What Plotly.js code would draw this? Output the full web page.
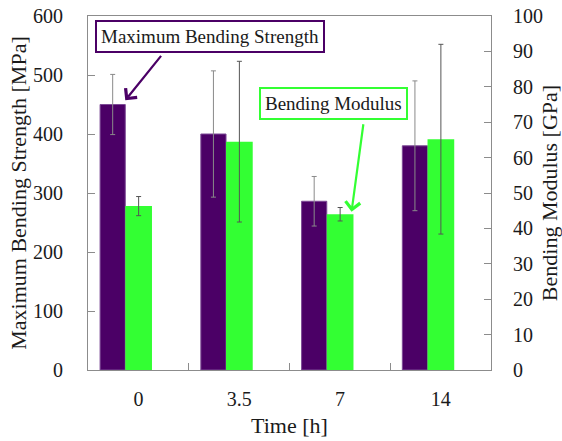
<!DOCTYPE html>
<html>
<head>
<meta charset="utf-8">
<script src="https://cdn.plot.ly/plotly-3.0.1.min.js"></script>
<style>html,body{margin:0;padding:0;background:#fff}#chart{width:562px;height:441px}</style>
</head>
<body>
<div id="chart"></div>
<script>
var categories = ['0', '3.5', '7', '14'];
var strength = [450, 400, 286, 380];
var strengthErr = [51, 107, 42, 110];
var modulus = [46.3, 64.5, 44.0, 65.2];
var modulusErr = [2.7, 22.7, 1.9, 26.8];

var font = '"Liberation Serif", "Times New Roman", Times, serif';
var txt = '#1a1a1a';
var lineCol = '#8c8c8c';

var traces = [
  {
    type: 'bar', name: 'Maximum Bending Strength', x: categories, y: strength,
    width: 0.25, offset: -0.38,
    marker: {color: '#4b0066', line: {color: '#7d4b96', width: 1}},
    error_y: {type: 'data', array: strengthErr, visible: true, color: '#8a8a8a', thickness: 1, width: 2.5},
    yaxis: 'y', showlegend: false
  },
  {
    type: 'bar', name: 'Bending Modulus', x: categories, y: modulus,
    width: 0.265, offset: -0.13,
    marker: {color: '#33ff33', line: {width: 0}},
    error_y: {type: 'data', array: modulusErr, visible: true, color: '#555555', thickness: 1, width: 2.5},
    yaxis: 'y2', showlegend: false
  }
];

var layout = {
  width: 562, height: 441,
  margin: {l: 88, r: 71, t: 16, b: 71},
  paper_bgcolor: '#fff', plot_bgcolor: '#fff',
  font: {family: font, color: txt, size: 20},
  barmode: 'overlay',
  xaxis: {
    type: 'category', range: [-0.5, 3.5],
    showline: true, linecolor: lineCol, linewidth: 1, mirror: true,
    ticks: 'inside', tickson: 'boundaries', ticklen: 7, tickcolor: lineCol,
    showgrid: false, zeroline: false,
    ticklabelstandoff: 11,
    tickfont: {size: 20, family: font, color: txt},
    title: {text: 'Time [h]', font: {size: 22, family: font, color: txt}, standoff: 8}
  },
  yaxis: {
    range: [0, 600], dtick: 100,
    showline: true, linecolor: lineCol, linewidth: 1, mirror: true,
    ticks: 'inside', ticklen: 7, tickcolor: lineCol,
    showgrid: false, zeroline: false,
    ticklabelstandoff: 20,
    tickfont: {size: 20, family: font, color: txt},
    title: {text: 'Maximum Bending Strength [MPa]', font: {size: 22, family: font, color: txt}, standoff: 0}
  },
  yaxis2: {
    overlaying: 'y', side: 'right', range: [0, 100], dtick: 10,
    showline: true, linecolor: lineCol, linewidth: 1,
    ticks: 'inside', ticklen: 7, tickcolor: lineCol,
    showgrid: false, zeroline: false,
    ticklabelstandoff: 17,
    tickfont: {size: 20, family: font, color: txt},
    title: {text: 'Bending Modulus [GPa]', font: {size: 22, family: font, color: txt}, standoff: 1}
  },
  annotations: [
    {
      xref: 'paper', yref: 'paper', x: 0.3027, y: 0.9435, xanchor: 'center', yanchor: 'middle',
      text: 'Maximum Bending Strength', showarrow: false,
      font: {size: 19, family: font, color: txt},
      bordercolor: '#4b0066', borderwidth: 2, borderpad: 4, bgcolor: '#fff'
    },
    {
      xref: 'x', yref: 'y', x: -0.13, y: 457, text: '', showarrow: true,
      ax: 37, ay: -46, arrowhead: 4, arrowsize: 1.3, arrowwidth: 2.2, arrowcolor: '#4b0066'
    },
    {
      xref: 'paper', yref: 'paper', x: 0.6104, y: 0.7523, xanchor: 'center', yanchor: 'middle',
      text: 'Bending Modulus', showarrow: false,
      font: {size: 19, family: font, color: txt},
      bordercolor: '#33ff33', borderwidth: 2, borderpad: 4, bgcolor: '#fff'
    },
    {
      xref: 'x', yref: 'y2', x: 2.116, y: 44.7, text: '', showarrow: true,
      ax: 12, ay: -89, arrowhead: 4, arrowsize: 1.3, arrowwidth: 2.2, arrowcolor: '#33ff33'
    }
  ]
};

Plotly.newPlot('chart', traces, layout, {displayModeBar: false, staticPlot: true});
</script>
</body>
</html>
